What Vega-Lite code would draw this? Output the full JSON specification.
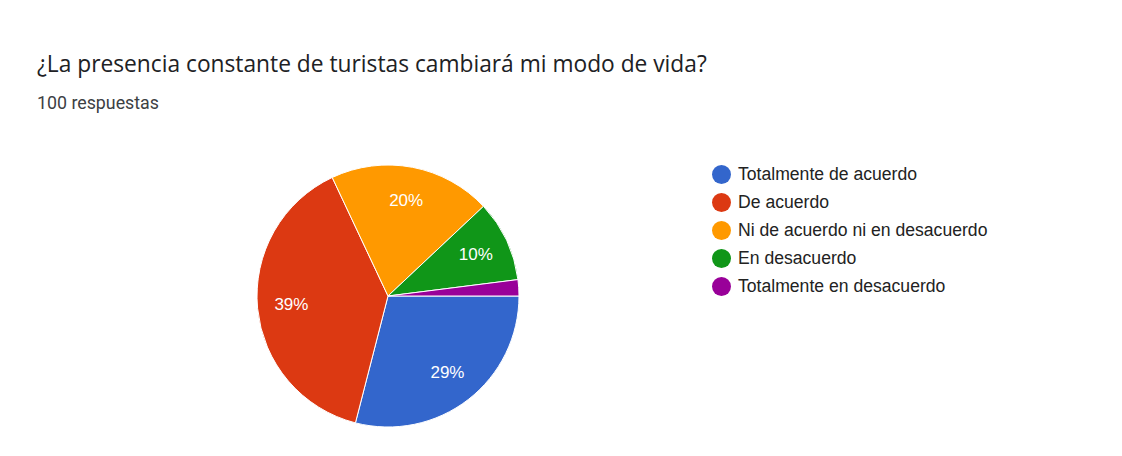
{
  "$schema": "https://vega.github.io/schema/vega-lite/v6.json",
  "autosize": {"type": "none"},
  "width": 262,
  "height": 262,
  "padding": {"left": 257, "top": 165, "right": 603, "bottom": 29},
  "background": "white",
  "title": {
    "text": "¿La presencia constante de turistas cambiará mi modo de vida?",
    "subtitle": "100 respuestas",
    "anchor": "start",
    "frame": "group",
    "orient": "top",
    "dx": -220,
    "offset": 50,
    "font": "Open Sans",
    "fontSize": 22.75,
    "fontWeight": "normal",
    "color": "#202124",
    "subtitleFont": "Roboto",
    "subtitleFontSize": 17.8,
    "subtitleColor": "#3c4043",
    "subtitlePadding": 18
  },
  "data": {
    "values": [
      {"idx": 1, "respuesta": "Totalmente de acuerdo", "value": 29, "pct": 0.29},
      {"idx": 2, "respuesta": "De acuerdo", "value": 39, "pct": 0.39},
      {"idx": 3, "respuesta": "Ni de acuerdo ni en desacuerdo", "value": 20, "pct": 0.20},
      {"idx": 4, "respuesta": "En desacuerdo", "value": 10, "pct": 0.10},
      {"idx": 5, "respuesta": "Totalmente en desacuerdo", "value": 2, "pct": 0.02}
    ]
  },
  "encoding": {
    "theta": {"field": "value", "type": "quantitative", "stack": true, "scale": {"range": [1.5707963, 7.8539816]}},
    "order": {"field": "idx", "type": "quantitative"},
    "color": {
      "field": "respuesta",
      "type": "nominal",
      "sort": null,
      "scale": {
        "domain": ["Totalmente de acuerdo", "De acuerdo", "Ni de acuerdo ni en desacuerdo", "En desacuerdo", "Totalmente en desacuerdo"],
        "range": ["#3366cc", "#dc3912", "#ff9900", "#109618", "#990099"]
      },
      "legend": {
        "title": null,
        "orient": "right",
        "offset": 193,
        "padding": 0,
        "symbolType": "circle",
        "symbolSize": 361,
        "symbolStrokeWidth": 0,
        "symbolOpacity": 1,
        "labelFont": "Liberation Sans",
        "labelFontSize": 17.6,
        "labelColor": "#222222",
        "labelOffset": 7,
        "labelLimit": 400,
        "rowPadding": 9
      }
    }
  },
  "layer": [
    {
      "mark": {"type": "arc", "outerRadius": 131, "stroke": "white", "strokeWidth": 1}
    },
    {
      "mark": {"type": "text", "radius": 97, "font": "Liberation Sans", "fontSize": 17, "fill": "white", "baseline": "middle", "align": "center"},
      "encoding": {
        "text": {"condition": {"test": "datum.value < 5", "value": ""}, "field": "pct", "type": "quantitative", "format": ".0%"},
        "color": {"value": "white"}
      }
    }
  ],
  "config": {"view": {"stroke": null}}
}
